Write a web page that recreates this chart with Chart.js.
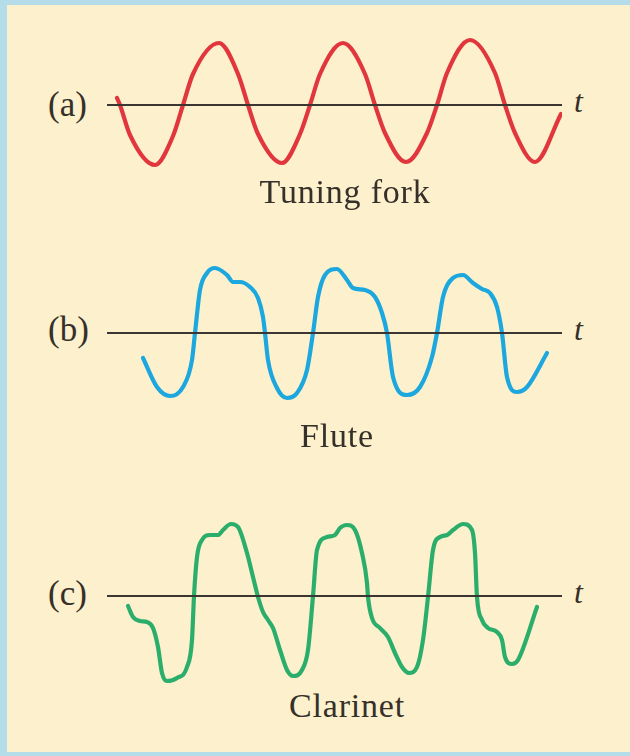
<!DOCTYPE html>
<html>
<head>
<meta charset="utf-8">
<script src="https://cdn.jsdelivr.net/npm/chart.js@4/dist/chart.umd.min.js"></script>
<style>
  html, body { margin: 0; padding: 0; }
  body { width: 630px; height: 756px; background: #b4dce9; position: relative; overflow: hidden; }
  #panel { position: absolute; left: 7px; top: 5px; right: 0; bottom: 4px; background: #fdf0cc; }
  .plot { position: absolute; left: 106px; width: 456px; height: 180px; }
  .txt { position: absolute; font-family: "Liberation Serif", "Times New Roman", serif; color: #36302a; line-height: 1; white-space: nowrap; }
  .cap { font-size: 34px; letter-spacing: 0.8px; transform: translateX(-50%); }
  .lab { font-size: 35px; left: 48px; }
  .t { font-size: 32px; font-style: italic; left: 574px; }
</style>
</head>
<body>
<div id="panel"></div>

<div class="plot" style="top:15px"><canvas id="wave_chart-0" width="456" height="180"></canvas></div>
<div class="plot" style="top:243px"><canvas id="wave_chart-1" width="456" height="180"></canvas></div>
<div class="plot" style="top:506px"><canvas id="wave_chart-2" width="456" height="180"></canvas></div>

<div class="txt lab" style="top:87px">(a)</div>
<div class="txt lab" style="top:312px">(b)</div>
<div class="txt lab" style="top:576px">(c)</div>

<div class="txt t" style="top:85px">t</div>
<div class="txt t" style="top:313px">t</div>
<div class="txt t" style="top:576px">t</div>

<div class="txt cap" style="left:345px; top:175px">Tuning fork</div>
<div class="txt cap" style="left:337px; top:419px">Flute</div>
<div class="txt cap" style="left:347px; top:689px">Clarinet</div>

<script>
// time axis (arbitrary units) and displacement
var axis_time = [0.25, 114];
var axis_disp = [0, 0];

var fork_time = [2.75, 3.5, 6.0, 12.25, 16.75, 19.25, 21.75, 28.25, 33.0, 35.5, 38.0, 44.0, 48.5, 51.0, 53.5, 59.25,
  64.75, 67.25, 69.75, 75.0, 80.25, 82.75, 85.25, 91.0, 97.25, 99.75, 102.25, 107.25, 113.75];
var fork_disp = [7, 0, -30, -60, -31, 0, 31, 62, 31, 0, -29, -58, -29, 0, 31, 62,
  31, 0, -28, -57, -28, 0, 32, 65, 32, 0, -28, -57, -9];

var flute_time = [9.25, 12.75, 16, 19.25, 21.5, 22.25, 23.5, 25.25, 27.25, 30.25, 31.75, 33.5, 36, 38, 39.25, 39.75,
  40.5, 42.75, 45.25, 47.75, 50.25, 51.75, 53, 54.75, 57.75, 60.25, 61.75, 64.75, 67.25, 69, 70.25,
  71.75, 75.25, 78.5, 81.5, 82.75, 84.25, 86.75, 89.25, 91.75, 94, 96, 97.75, 99,
  100.25, 102.75, 105.25, 110.25];
var flute_disp = [-25, -54, -63, -54, -27, 0, 43, 60, 65, 58, 51, 51, 46, 35, 16, 0,
  -27, -55, -65, -60, -37, 0, 36, 58, 64, 53, 45, 43, 36, 20, 0,
  -44, -62, -54, -24, 0, 36, 55, 58, 50, 44, 40, 26, 0,
  -44, -59, -54, -20];

var clarinet_time = [5.5, 6.75, 8.5, 10.25, 11.75, 13, 14, 15.25, 17.75, 20.25, 21.5, 22, 22.75, 24, 26, 28, 29.25,
  31.25, 33, 35.25, 36.75, 38, 39.25, 40.5, 41.75, 43.5, 45.25, 46.75, 49, 50.5, 51.75, 52.75, 55.25,
  57.25, 58.5, 60.25, 62.25, 64, 65.25, 65.5, 66.5, 68.5, 70.5, 72.25, 74, 75.75, 77.75, 79.25,
  80.5, 81.75, 83.5, 85.25, 86.75, 89.25, 91.5, 92.25, 92.75, 94, 95.5, 97.75, 99, 99.75,
  101.5, 103, 107.75];
var clarinet_disp = [-10, -21, -25, -26, -32, -51, -77, -85, -82, -71, -44, 0, 39, 56, 61, 61, 66,
  72, 69, 43, 19, -1, -16, -24, -32, -54, -74, -80, -74, -54, 0, 46, 59,
  61, 68, 71, 66, 43, 13, -1, -22, -32, -41, -57, -71, -77, -71, -44,
  -1, 46, 59, 61, 66, 72, 66, 43, -1, -24, -32, -36, -44, -61,
  -68, -64, -11];

var wave_times = [fork_time, flute_time, clarinet_time];
var wave_disps = [fork_disp, flute_disp, clarinet_disp];
var wave_names = ['Tuning fork', 'Flute', 'Clarinet'];
var wave_colors = ['#e1363d', '#1ca7df', '#2bae6b'];

function toPoints(ts, ys) {
  return ts.map(function (t, k) { return {x: t, y: ys[k]}; });
}

for (let i = 0; i < wave_names.length; i++) {

    const data = {
      datasets: [{
        label: 't',
        data: toPoints(axis_time, axis_disp),
        borderColor: '#3b3631',
        borderWidth: 2,
        clip: false
      },
      {
        label: wave_names[i],
        data: toPoints(wave_times[i], wave_disps[i]),
        borderColor: wave_colors[i],
        borderWidth: 4.2,
        cubicInterpolationMode: 'monotone',
        borderCapStyle: 'round',
        borderJoinStyle: 'round',
        clip: false
      }]
    };

    const config = {
      type: 'line',
      data: data,
      options: {
        responsive: false,
        animation: false,
        layout: {padding: 0},
        elements: {point: {radius: 0}},
        scales: {
          x: {type: 'linear', min: 0, max: 114, display: false},
          y: {min: -90, max: 90, display: false}
        },
        plugins: {
          legend: {display: false},
          tooltip: {enabled: false}
        }
      }
    };

    new Chart(document.getElementById('wave_chart-' + i), config);
}
</script>
</body>
</html>
